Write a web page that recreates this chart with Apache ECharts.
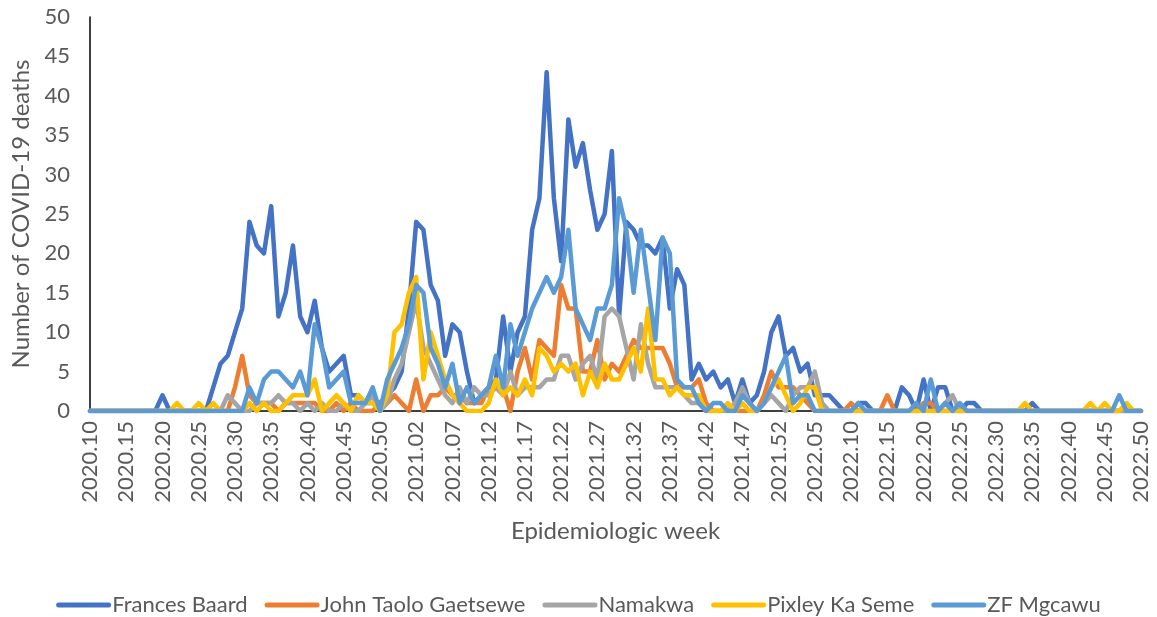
<!DOCTYPE html>
<html>
<head>
<meta charset="utf-8">
<script src="https://cdn.jsdelivr.net/npm/echarts@6/dist/echarts.min.js"></script>
<style>
  html, body { margin: 0; padding: 0; background: #fff; }
  #chart { width: 1157px; height: 617px; }
</style>
</head>
<body>
<div id="chart"></div>
<script>
// Epidemiologic weeks (year.week), 2020 has 53 weeks
const weeks = [
  '2020.10','2020.11','2020.12','2020.13','2020.14','2020.15','2020.16','2020.17','2020.18','2020.19',
  '2020.20','2020.21','2020.22','2020.23','2020.24','2020.25','2020.26','2020.27','2020.28','2020.29',
  '2020.30','2020.31','2020.32','2020.33','2020.34','2020.35','2020.36','2020.37','2020.38','2020.39',
  '2020.40','2020.41','2020.42','2020.43','2020.44','2020.45','2020.46','2020.47','2020.48','2020.49',
  '2020.50','2020.51','2020.52','2020.53','2021.01','2021.02','2021.03','2021.04','2021.05','2021.06',
  '2021.07','2021.08','2021.09','2021.10','2021.11','2021.12','2021.13','2021.14','2021.15','2021.16',
  '2021.17','2021.18','2021.19','2021.20','2021.21','2021.22','2021.23','2021.24','2021.25','2021.26',
  '2021.27','2021.28','2021.29','2021.30','2021.31','2021.32','2021.33','2021.34','2021.35','2021.36',
  '2021.37','2021.38','2021.39','2021.40','2021.41','2021.42','2021.43','2021.44','2021.45','2021.46',
  '2021.47','2021.48','2021.49','2021.50','2021.51','2021.52','2022.01','2022.02','2022.03','2022.04',
  '2022.05','2022.06','2022.07','2022.08','2022.09','2022.10','2022.11','2022.12','2022.13','2022.14',
  '2022.15','2022.16','2022.17','2022.18','2022.19','2022.20','2022.21','2022.22','2022.23','2022.24',
  '2022.25','2022.26','2022.27','2022.28','2022.29','2022.30','2022.31','2022.32','2022.33','2022.34',
  '2022.35','2022.36','2022.37','2022.38','2022.39','2022.40','2022.41','2022.42','2022.43','2022.44',
  '2022.45','2022.46','2022.47','2022.48','2022.49','2022.50'
];

// Weekly COVID-19 deaths per district
const francesBaard = [
  0,0,0,0,0,0,0,0,0,0,
  2,0,0,0,0,0,0,3,6,7,
  10,13,24,21,20,26,12,15,21,12,
  10,14,8,5,6,7,2,2,1,1,
  1,2,3,5,13,24,23,16,14,7,
  11,10,5,1,2,3,4,12,5,10,
  12,23,27,43,27,19,37,31,34,28,
  23,25,33,12,24,23,21,21,20,22,
  13,18,16,4,6,4,5,3,4,1,
  4,1,2,5,10,12,7,8,5,6,
  2,2,2,1,0,0,1,1,0,0,
  0,0,3,2,0,4,0,3,3,0,
  0,1,1,0,0,0,0,0,0,0,
  1,0,0,0,0,0,0,0,0,0,
  0,0,0,0,0,0
];
const johnTaoloGaetsewe = [
  0,0,0,0,0,0,0,0,0,0,
  0,0,0,0,0,0,0,0,0,0,
  3,7,2,1,1,1,0,1,1,1,
  1,1,0,0,1,0,1,0,0,0,
  1,1,2,1,0,4,0,2,2,3,
  2,2,1,1,1,3,3,3,0,5,
  8,4,9,8,7,16,13,13,5,5,
  9,4,6,5,7,9,8,8,8,8,
  6,3,3,3,4,1,0,0,0,0,
  0,0,0,2,5,3,3,3,2,1,
  0,0,0,0,0,1,0,0,0,0,
  2,0,0,0,0,1,1,0,0,0,
  0,0,0,0,0,0,0,0,0,0,
  0,0,0,0,0,0,0,0,0,0,
  0,0,0,0,0,0
];
const namakwa = [
  0,0,0,0,0,0,0,0,0,0,
  0,0,0,0,0,0,0,0,0,2,
  1,0,0,1,1,1,2,1,1,0,
  1,0,1,0,0,1,0,0,1,2,
  0,1,4,6,10,14,8,6,4,2,
  1,3,1,3,2,2,3,2,5,2,
  3,3,3,4,4,7,7,4,6,7,
  4,12,13,12,8,4,11,6,3,3,
  3,3,2,1,1,0,0,0,0,1,
  3,1,0,1,2,1,0,2,3,3,
  5,1,0,0,0,0,0,0,0,0,
  0,0,0,0,0,0,0,0,1,2,
  0,0,0,0,0,0,0,0,0,0,
  0,0,0,0,0,0,0,0,0,0,
  0,0,0,0,0,0
];
const pixleyKaSeme = [
  0,0,0,0,0,0,0,0,0,0,
  0,0,1,0,0,1,0,1,0,0,
  0,0,1,0,1,0,0,1,2,2,
  2,4,0,1,2,1,0,2,1,1,
  0,2,10,11,15,17,4,10,7,4,
  2,1,0,0,0,1,4,2,3,2,
  4,2,8,7,5,6,5,6,2,5,
  3,6,4,4,6,8,5,13,4,4,
  2,3,2,2,2,0,0,0,1,0,
  1,0,0,1,3,4,2,0,1,3,
  3,0,0,0,0,0,0,0,0,0,
  0,0,0,0,0,0,0,0,0,0,
  0,0,0,0,0,0,0,0,0,1,
  0,0,0,0,0,0,0,0,1,0,
  1,0,0,1,0,0
];
const zfMgcawu = [
  0,0,0,0,0,0,0,0,0,0,
  0,0,0,0,0,0,0,0,0,0,
  0,0,3,1,4,5,5,4,3,5,
  2,11,8,3,4,5,1,1,1,3,
  0,4,6,8,11,16,15,8,6,3,
  6,1,3,1,2,3,7,3,11,7,
  10,13,15,17,15,17,23,13,11,9,
  13,13,16,27,23,15,23,16,9,22,
  20,4,3,3,1,0,1,1,0,0,
  2,1,0,1,3,5,7,1,2,2,
  0,0,0,0,0,0,1,0,0,0,
  0,0,0,0,1,0,4,0,1,0,
  1,0,0,0,0,0,0,0,0,0,
  0,0,0,0,0,0,0,0,0,0,
  0,0,2,0,0,0
];

const seriesNames = ['Frances Baard', 'John Taolo Gaetsewe', 'Namakwa', 'Pixley Ka Seme', 'ZF Mgcawu'];
const seriesValues = [francesBaard, johnTaoloGaetsewe, namakwa, pixleyKaSeme, zfMgcawu];
const seriesColors = ['#4472C4', '#ED7D31', '#A5A5A5', '#FFC000', '#5B9BD5'];

const yTicks = { min: 0, max: 50, interval: 5 };

const FONT = 'Lato';
const TEXT_COLOR = '#595959';

const chart = echarts.init(document.getElementById('chart'), null, { renderer: 'canvas' });

chart.setOption({
  animation: false,
  color: seriesColors,
  textStyle: { fontFamily: FONT },
  grid: { left: 90, right: 16, top: 17, bottom: 206 },
  legend: {
    data: seriesNames,
    top: 589,
    left: 'center',
    icon: 'path://M2.5,0H52.5A2.5,2.5 0 0 1 52.5,5H2.5A2.5,2.5 0 0 1 2.5,0Z',
    itemWidth: 55,
    itemHeight: 5,
    itemGap: 17,
    textStyle: { fontFamily: FONT, fontSize: 22, color: TEXT_COLOR, padding: [0, 0, 0, -4] }
  },
  xAxis: {
    type: 'category',
    data: weeks,
    boundaryGap: false,
    name: 'Epidemiologic week',
    nameLocation: 'middle',
    nameGap: 108,
    nameTextStyle: { fontFamily: FONT, fontSize: 24, color: TEXT_COLOR },
    axisLine: { lineStyle: { color: '#000', width: 1.5 } },
    axisTick: { show: false },
    axisLabel: {
      interval: 4,
      rotate: 90,
      margin: 10,
      fontFamily: FONT,
      fontSize: 22,
      color: TEXT_COLOR
    },
    splitLine: { show: false }
  },
  yAxis: {
    type: 'value',
    min: yTicks.min,
    max: yTicks.max,
    interval: yTicks.interval,
    name: 'Number of COVID-19 deaths',
    nameLocation: 'middle',
    nameGap: 56,
    nameTextStyle: { fontFamily: FONT, fontSize: 24, color: TEXT_COLOR },
    axisLine: { show: true, lineStyle: { color: '#000', width: 1.5 } },
    axisTick: { show: false },
    axisLabel: { margin: 20, fontFamily: FONT, fontSize: 22, color: TEXT_COLOR },
    splitLine: { show: false }
  },
  series: seriesNames.map((name, k) => ({
    name: name,
    type: 'line',
    data: seriesValues[k],
    symbol: 'none',
    lineStyle: { width: 4.5, cap: 'round', join: 'round' },
    z: 2 + k
  }))
});
</script>
</body>
</html>
